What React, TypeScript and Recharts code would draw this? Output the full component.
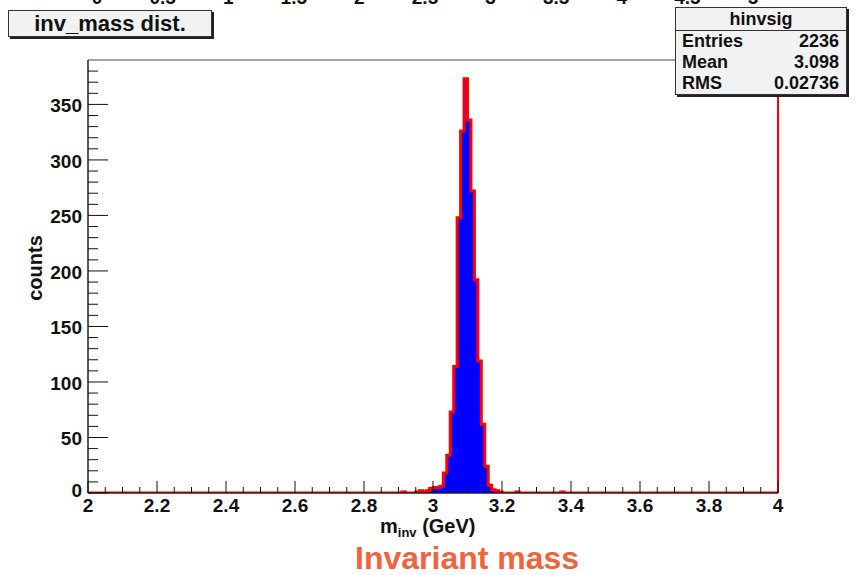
import React from 'react';
import {
  ComposedChart,
  Area,
  XAxis,
  YAxis,
  ReferenceArea,
  ReferenceLine,
} from 'recharts';

// histogram bins, 0.01 GeV wide, starting at 2.90 (everything else is empty)
const binStart = 2.9;
const binWidth = 0.01;
const counts = [
  0, 1, 0, 0, 0, 1, 2, 1, 2, 4,
  5, 5, 6, 18, 34, 73, 114, 248, 326, 373,
  336, 272, 192, 119, 62, 24, 7, 3, 2, 1,
  0, 0, 0, 0, 1, 0, 0, 0, 0, 0,
  0, 0, 0, 0, 0, 0, 0, 1, 0, 0,
];

const xRange = [2, 4];
const yRange = [0, 390];
const xMajorTicks = [2, 2.2, 2.4, 2.6, 2.8, 3, 3.2, 3.4, 3.6, 3.8, 4];
const yMajorTicks = [0, 50, 100, 150, 200, 250, 300, 350];
const topLabels = ['0', '0.5', '1', '1.5', '2', '2.5', '3', '3.5', '4', '4.5', '5'];

const statsRows = [
  ['Entries', '2236'],
  ['Mean', '3.098'],
  ['RMS', '0.02736'],
];

const FONT = '"Liberation Sans", Arial, Helvetica, sans-serif';
const TICK_GAP = 6;

const histData = [
  { x: xRange[0], n: 0 },
  ...counts.map((n, i) => ({ x: +(binStart + i * binWidth).toFixed(2), n })),
  { x: +(binStart + counts.length * binWidth).toFixed(2), n: 0 },
  { x: xRange[1], n: 0 },
];

// minor ticks every 0.05 on x, every 10 on y
const xTicks: number[] = [];
for (let i = 0; i <= 40; i++) xTicks.push(+(2 + i * 0.05).toFixed(2));
const yTicks: number[] = [];
for (let v = 0; v <= 380; v += 10) yTicks.push(v);

const isXMajor = (v: number) => xMajorTicks.some((t) => Math.abs(t - v) < 1e-6);

const XTick = (props: any) => {
  const { x, y, payload } = props;
  const v = payload.value;
  const axisY = y - TICK_GAP;
  const major = isXMajor(v);
  return (
    <g>
      <line x1={x} x2={x} y1={axisY} y2={axisY - (major ? 12 : 6)} stroke="#111" strokeWidth={1} />
      {major && (
        <text x={x} y={axisY + 19} textAnchor="middle" fontFamily={FONT} fontWeight="bold" fontSize={19} fill="#111">
          {String(+v.toFixed(1))}
        </text>
      )}
    </g>
  );
};

const YTick = (props: any) => {
  const { x, y, payload } = props;
  const v = payload.value;
  const axisX = x + TICK_GAP;
  const major = yMajorTicks.includes(v);
  return (
    <g>
      <line x1={axisX} x2={axisX + (major ? 20 : 10)} y1={y} y2={y} stroke="#111" strokeWidth={1} />
      {major && (
        <text x={axisX - 6} y={y + (v === 0 ? 4 : 8)} textAnchor="end" fontFamily={FONT} fontWeight="bold" fontSize={19} fill="#111">
          {v}
        </text>
      )}
    </g>
  );
};

export default function App() {
  return (
    <div style={{ position: 'absolute', left: 0, top: 0, width: 856, height: 575, background: '#fff', fontFamily: FONT }}>
      <ComposedChart width={856} height={575} data={histData} margin={{ top: 60, right: 78, bottom: 52, left: 28 }}>
        <XAxis
          type="number"
          dataKey="x"
          domain={xRange}
          ticks={xTicks}
          interval={0}
          tickSize={0}
          tickMargin={TICK_GAP}
          tick={<XTick />}
          height={30}
          stroke="#111"
          allowDataOverflow
        />
        <YAxis
          type="number"
          domain={yRange}
          ticks={yTicks}
          interval={0}
          tickSize={0}
          tickMargin={TICK_GAP}
          tick={<YTick />}
          width={60}
          stroke="#111"
          allowDataOverflow
        />
        <ReferenceArea x1={xRange[0]} x2={xRange[1]} y1={yRange[0]} y2={yRange[1]} fill="none" stroke="#444" strokeWidth={1} />
        <Area
          type="stepAfter"
          dataKey="n"
          fill="#0000ff"
          fillOpacity={1}
          stroke="#ff0000"
          strokeWidth={3}
          isAnimationActive={false}
          dot={false}
          activeDot={false}
        />
        <ReferenceLine x={xRange[1]} stroke="#ff0000" strokeWidth={2} />
      </ComposedChart>

      {/* tick labels of the pad above, cut off by the top edge */}
      <svg width={856} height={5} style={{ position: 'absolute', left: 0, top: 0 }}>
        {topLabels.map((t, i) => (
          <text key={t} x={97 + i * 65.6} y={4} textAnchor="middle" fontFamily={FONT} fontWeight="bold" fontSize={19} fill="#111">
            {t}
          </text>
        ))}
      </svg>

      <div
        style={{
          position: 'absolute', left: 8, top: 10, width: 204, height: 27, boxSizing: 'border-box',
          border: '1px solid #333', background: '#f2f2f2', boxShadow: '2px 2px 0 #222',
          fontWeight: 'bold', fontSize: 22, lineHeight: '25px', textAlign: 'center', color: '#111',
        }}
      >
        inv_mass dist.
      </div>

      <div
        style={{
          position: 'absolute', left: 675, top: 7, width: 172, height: 88, boxSizing: 'border-box',
          border: '1px solid #333', background: '#f2f2f2', boxShadow: '2px 2px 0 #222',
          fontWeight: 'bold', fontSize: 18, color: '#111',
        }}
      >
        <div style={{ height: 22, lineHeight: '22px', textAlign: 'center', borderBottom: '1px solid #333' }}>hinvsig</div>
        {statsRows.map(([k, v]) => (
          <div key={k} style={{ display: 'flex', justifyContent: 'space-between', height: 21, lineHeight: '21px', padding: '0 7px 0 6px' }}>
            <span>{k}</span>
            <span>{v}</span>
          </div>
        ))}
      </div>

      <div
        style={{
          position: 'absolute', left: 35, top: 268, transform: 'translate(-50%, -50%) rotate(-90deg)',
          fontWeight: 'bold', fontSize: 20, color: '#111', whiteSpace: 'nowrap',
        }}
      >
        counts
      </div>

      <div
        style={{
          position: 'absolute', left: 380, top: 516, fontWeight: 'bold', fontSize: 20, lineHeight: '20px',
          color: '#111', whiteSpace: 'nowrap',
        }}
      >
        m<span style={{ fontSize: 13, position: 'relative', top: 4 }}>inv</span> (GeV)
      </div>

      <div
        style={{
          position: 'absolute', left: 355, top: 543, fontWeight: 'bold', fontSize: 32, lineHeight: '30px',
          color: '#ef643c', whiteSpace: 'nowrap',
        }}
      >
        Invariant mass
      </div>
    </div>
  );
}
